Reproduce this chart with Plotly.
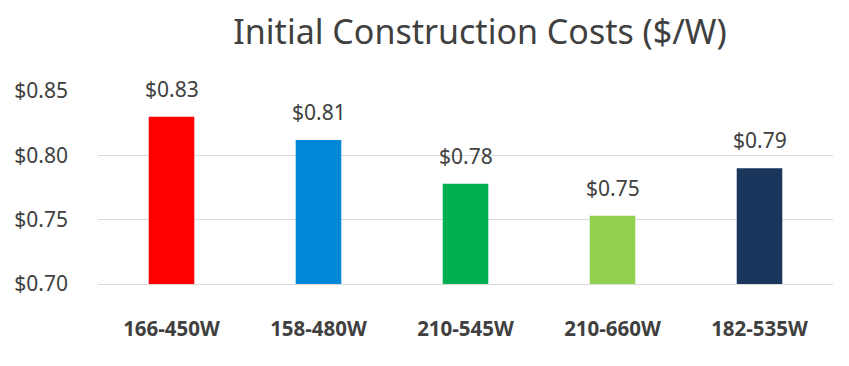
import plotly.graph_objects as go

categories = ["166-450W", "158-480W", "210-545W", "210-660W", "182-535W"]
costs = [0.830, 0.812, 0.778, 0.753, 0.790]
bar_colors = ["#FF0000", "#0088D6", "#00B050", "#92D050", "#1A365D"]
y_ticks = [0.70, 0.75, 0.80, 0.85]
y_tick_labels = ["$0.70", "$0.75", "$0.80", "$0.85"]

FONT = "Noto Sans"
TEXT_COLOR = "#404040"

fig = go.Figure()
fig.add_trace(go.Bar(
    x=categories,
    y=costs,
    marker=dict(color=bar_colors, line=dict(width=0)),
    width=0.31,
    hoverinfo="x+y",
))

for c, v in zip(categories, costs):
    fig.add_annotation(
        x=c, y=v, text=f"${v:.2f}", showarrow=False,
        yanchor="middle", yshift=28,
        font=dict(family=FONT, size=21, color=TEXT_COLOR),
    )

fig.update_layout(
    width=849, height=366,
    margin=dict(l=90, r=24, t=83, b=90),
    paper_bgcolor="white", plot_bgcolor="white",
    showlegend=False,
    title=dict(
        text="Initial Construction Costs ($/W)",
        x=472 / 849, xanchor="center", xref="container",
        y=1 - 24 / 366, yanchor="middle", yref="container",
        font=dict(family=FONT, size=34, color=TEXT_COLOR),
    ),
)
fig.update_yaxes(
    range=[0.70, 0.85], automargin=False,
    tickvals=y_ticks, ticktext=y_tick_labels,
    showgrid=True, gridcolor="#D9D9D9", gridwidth=1.3,
    zeroline=False, showline=False,
    ticks="", ticklabelstandoff=29,
    tickfont=dict(family=FONT, size=21, color=TEXT_COLOR),
)
fig.update_xaxes(
    automargin=False,
    showline=True, linecolor="#D9D9D9", linewidth=1.3,
    ticks="", ticklabelstandoff=26,
    tickfont=dict(family=FONT, size=20.5, color=TEXT_COLOR, weight="bold"),
)

fig.write_html("out.html")
